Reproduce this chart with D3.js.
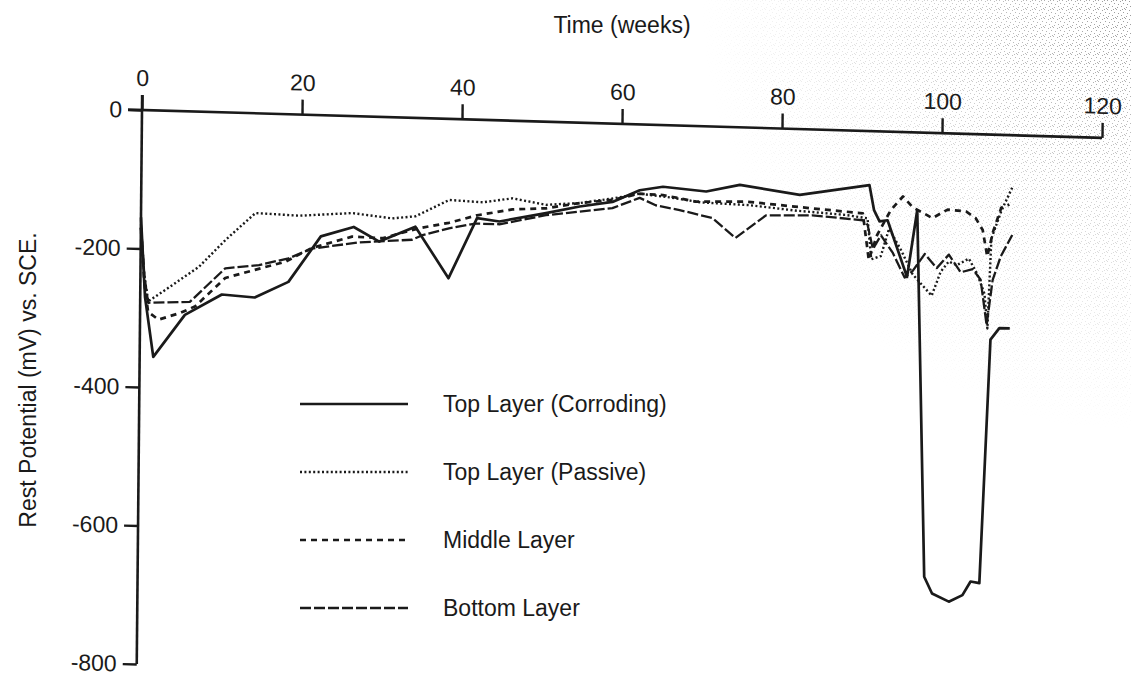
<!DOCTYPE html>
<html>
<head>
<meta charset="utf-8">
<script src="https://cdn.jsdelivr.net/npm/d3@7"></script>
<style>
  html, body { margin: 0; padding: 0; background: #fff; }
  svg { display: block; }
  text { font-family: "Liberation Sans", Arial, Helvetica, sans-serif; fill: #1a1a1a; }
</style>
</head>
<body>
<svg id="chart" width="1131" height="686"></svg>
<script>
// Axis ticks
const xTicks = [0, 20, 40, 60, 80, 100, 120];
const yTicks = [0, -200, -400, -600, -800];

// Rest potential (mV vs. SCE) against time (weeks) for each layer
const corrodingWeeks = [0, 0.6, 1.7, 5.6, 10.2, 14.3, 18.5, 22.5, 26.6, 29.8, 34.3, 38.5, 42, 44.8, 50.6, 54.8, 58.9, 62.3, 65.2, 70.6, 74.8, 82.3, 91, 91.6, 92.3, 93.3, 95.8, 97, 98.3, 99.3, 101.4, 103.1, 104.1, 105.2, 106.3, 107.4, 108.7];
const corrodingMV = [-155, -270, -356, -294, -263, -266, -242, -175, -160, -180, -157, -230, -142, -146, -132, -121, -113, -95, -89, -94, -83, -95, -78, -114, -130, -128, -209, -112, -641, -665, -676, -666, -646, -648, -296, -279, -279];

const passiveWeeks = [0, 0.5, 1, 3.1, 7.3, 10.6, 14.3, 19.8, 26.4, 31.4, 34.3, 38.5, 42.7, 46.4, 50.6, 54.8, 58.9, 62.3, 66, 70, 76, 82, 88, 90.8, 91.3, 92.5, 93.5, 95, 96.5, 98.9, 100, 101, 102, 103.5, 104.5, 105.5, 105.9, 106.3, 107.5, 108.9];
const passiveMV = [-170, -240, -276, -259, -224, -184, -144, -146, -140, -146, -142, -117, -119, -112, -120, -116, -108, -100, -104, -110, -112, -118, -122, -126, -185, -180, -140, -170, -205, -235, -200, -185, -190, -180, -200, -230, -280, -150, -110, -74];

const middleWeeks = [0, 0.5, 1, 2.3, 5.1, 6.9, 10.6, 14.3, 18.1, 21.4, 26.4, 30.2, 34.8, 38.5, 42, 46.4, 50.6, 54.8, 58.9, 62.3, 65.2, 69.3, 75.6, 83.9, 90.2, 91, 92, 93.7, 95.2, 96.4, 98.9, 100.8, 103.1, 104.3, 105.2, 105.8, 106.5, 107.5, 108.5];
const middleMV = [-170, -250, -291, -302, -291, -281, -239, -226, -213, -192, -174, -175, -159, -150, -138, -128, -125, -116, -110, -100, -101, -109, -107, -114, -119, -186, -150, -113, -93, -108, -123, -110, -112, -121, -138, -176, -140, -105, -100];

const bottomWeeks = [0, 0.5, 1, 6.2, 10.6, 14.8, 18.5, 21.4, 27.3, 33.9, 35.2, 38.5, 41.8, 44.8, 50.6, 58.9, 62.3, 64.3, 67.3, 71.4, 74.3, 78.1, 83.9, 90.2, 90.8, 91.5, 92.5, 94, 95.5, 96.5, 98, 99.5, 101, 102.5, 104, 105, 105.8, 106.5, 107.5, 108.9];
const bottomMV = [-165, -240, -278, -275, -225, -219, -208, -193, -182, -176, -169, -158, -150, -150, -135, -122, -106, -116, -122, -132, -160, -126, -124, -129, -135, -170, -150, -175, -210, -200, -175, -195, -175, -200, -195, -210, -275, -210, -175, -144];

const seriesNames = ["Top Layer (Corroding)", "Top Layer (Passive)", "Middle Layer", "Bottom Layer"];

const series = [
  { name: seriesNames[0], pts: d3.zip(corrodingWeeks, corrodingMV), dash: null,    width: 2.7 },
  { name: seriesNames[1], pts: d3.zip(passiveWeeks, passiveMV),     dash: "2,2.4", width: 2.4 },
  { name: seriesNames[2], pts: d3.zip(middleWeeks, middleMV),       dash: "6,5",   width: 2.7 },
  { name: seriesNames[3], pts: d3.zip(bottomWeeks, bottomMV),       dash: "11,3",  width: 2.3 }
];

const ink = "#1a1a1a";
const fontSize = "23px";
const svg = d3.select("#chart");

// Sparse halftone grain in the upper right corner of the printed page
const defs = svg.append("defs");
const grain = defs.append("pattern")
  .attr("id", "grain").attr("width", 9).attr("height", 9)
  .attr("patternUnits", "userSpaceOnUse");
[[0, 0], [4, 1], [7, 3], [2, 4], [5, 6], [1, 7], [8, 8], [6, 0]].forEach(([px, py]) =>
  grain.append("rect").attr("x", px).attr("y", py).attr("width", 1).attr("height", 1).attr("fill", "#6e6e6e"));
const fade = defs.append("radialGradient")
  .attr("id", "grainFade").attr("gradientUnits", "userSpaceOnUse")
  .attr("cx", 1131).attr("cy", 0).attr("r", 430);
fade.append("stop").attr("offset", 0).attr("stop-color", "#fff").attr("stop-opacity", 0.7);
fade.append("stop").attr("offset", 0.5).attr("stop-color", "#fff").attr("stop-opacity", 0.3);
fade.append("stop").attr("offset", 1).attr("stop-color", "#fff").attr("stop-opacity", 0);
defs.append("mask").attr("id", "grainMask")
  .append("rect").attr("width", 1131).attr("height", 686).attr("fill", "url(#grainFade)");
svg.append("rect")
  .attr("width", 1131).attr("height", 686)
  .attr("fill", "url(#grain)")
  .attr("mask", "url(#grainMask)");

// Plot frame: the printed figure sits slightly skewed on the page
const plotW = 960, plotH = 554;
const x = d3.scaleLinear().domain([0, 120]).range([0, plotW]);
const y = d3.scaleLinear().domain([0, -800]).range([0, plotH]);

const plot = svg.append("g")
  .attr("transform", "matrix(1, 0.029, -0.0095, 1, 142, 110)");

// Top time axis
const xAxis = plot.append("g")
  .call(d3.axisTop(x).tickValues(xTicks).tickSize(15).tickSizeOuter(0).tickPadding(9).tickFormat(d3.format("d")));
// Left potential axis
const yAxis = plot.append("g")
  .call(d3.axisLeft(y).tickValues(yTicks).tickSize(14).tickSizeOuter(0).tickPadding(6).tickFormat(d => String(d)));

[xAxis, yAxis].forEach(a => {
  a.select(".domain").attr("stroke", ink).attr("stroke-width", 2.6);
  a.selectAll(".tick line").attr("stroke", ink).attr("stroke-width", 2.4);
  a.selectAll(".tick text").attr("fill", ink).style("font-size", fontSize)
    .style("font-family", "'Liberation Sans', Arial, sans-serif");
});
// the vertical axis continues above the top axis as its zero tick
yAxis.select(".domain").attr("d", `M0,${-15}V${plotH}`);
// the top axis continues left of the vertical axis as its zero tick
xAxis.select(".domain").attr("d", `M${-14},0H${plotW}`);

const line = d3.line().x(d => x(d[0])).y(d => y(d[1]));

plot.append("g").selectAll("path")
  .data(series)
  .join("path")
  .attr("d", d => line(d.pts))
  .attr("fill", "none")
  .attr("stroke", ink)
  .attr("stroke-width", d => d.width)
  .attr("stroke-linejoin", "round")
  .attr("stroke-dasharray", d => d.dash);

// Axis titles
svg.append("text")
  .attr("x", 622).attr("y", 33)
  .attr("text-anchor", "middle")
  .style("font-size", fontSize)
  .text("Time (weeks)");

svg.append("text")
  .attr("transform", "translate(36,380) rotate(-90)")
  .attr("text-anchor", "middle")
  .style("font-size", fontSize)
  .text("Rest Potential (mV) vs. SCE.");

// Legend
const legendRows = d3.scaleLinear().domain([0, 3]).range([404, 608]);
const legend = svg.append("g").selectAll("g")
  .data(series)
  .join("g")
  .attr("transform", (d, i) => `translate(300,${legendRows(i)})`);

legend.append("line")
  .attr("x1", 0).attr("x2", 108)
  .attr("stroke", ink)
  .attr("stroke-width", d => d.width)
  .attr("stroke-dasharray", d => d.dash);

legend.append("text")
  .attr("x", 143).attr("y", 0)
  .attr("dy", "0.35em")
  .style("font-size", fontSize)
  .text(d => d.name);
</script>
</body>
</html>
